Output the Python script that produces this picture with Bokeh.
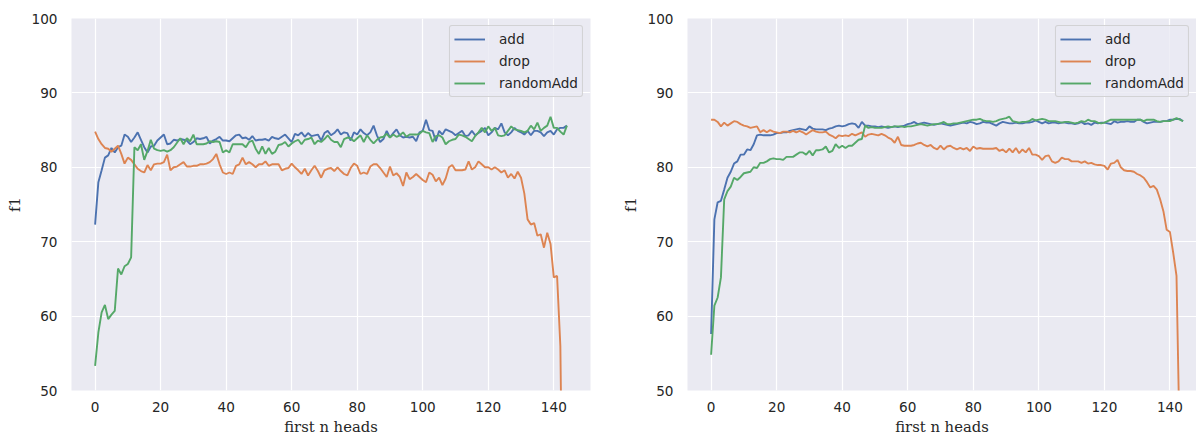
from bokeh.plotting import figure
from bokeh.layouts import row
from bokeh.models import FixedTicker, Range1d
from bokeh.embed import file_html
from bokeh.resources import INLINE

# ---------------- data ----------------
series_names = ["add", "drop", "randomAdd"]
x_ticks = [0, 20, 40, 60, 80, 100, 120, 140]
y_ticks = [50, 60, 70, 80, 90, 100]

left_add = [
    72.3, 78.0, 79.6, 81.3, 81.6, 82.6, 82.0, 82.7, 82.9, 84.4,
    84.1, 83.4, 84.0, 84.7, 83.7, 82.7, 82.0, 82.8, 82.9, 83.6,
    84.0, 84.4, 83.1, 83.2, 83.7, 83.6, 83.8, 83.7, 83.6, 83.1,
    83.4, 83.9, 83.8, 83.9, 84.1, 83.2, 83.6, 83.8, 84.1, 83.6,
    83.6, 83.5, 83.9, 84.3, 84.4, 83.9, 84.0, 83.7, 84.2, 83.6,
    83.7, 83.7, 83.8, 83.6, 84.1, 83.9, 83.8, 84.1, 84.4, 83.9,
    83.4, 84.5, 84.3, 84.7, 84.1, 84.6, 84.2, 84.3, 84.4, 83.6,
    84.6, 84.9, 84.3, 84.6, 85.1, 84.4, 84.7, 84.6, 83.6, 84.7,
    84.4, 85.1, 84.6, 84.3, 84.7, 85.6, 84.3, 83.4, 83.8, 84.9,
    84.0, 84.6, 85.1, 84.3, 84.0, 84.1, 84.0, 84.1, 83.5, 84.7,
    84.9, 86.4, 85.0, 84.9, 83.5, 84.9, 84.4, 85.1, 84.9, 84.7,
    84.3, 84.6, 84.9, 84.2, 84.3, 84.9, 84.3, 84.6, 84.9, 85.3,
    84.3, 84.7, 85.3, 85.1, 85.9, 84.7, 84.3, 84.7, 85.3, 84.9,
    84.7, 84.4, 84.9, 84.3, 84.9, 84.9, 84.7, 84.2, 84.7, 84.9,
    84.4, 85.1, 85.3, 85.3, 85.6,
]
left_drop = [
    84.8, 83.8, 83.1, 82.6, 82.5, 82.1, 82.5, 82.9, 81.8, 80.5,
    81.3, 81.0, 80.4, 79.8, 79.5, 79.3, 80.3, 79.6, 80.4, 80.5,
    80.5, 80.7, 81.7, 79.6, 80.0, 80.1, 80.4, 80.7, 80.1, 80.1,
    80.2, 80.2, 80.4, 80.4, 80.5, 80.7, 81.1, 81.8, 80.4, 79.3,
    79.1, 79.3, 79.1, 80.2, 80.4, 81.3, 80.4, 80.7, 80.4, 80.0,
    80.4, 80.4, 80.8, 80.2, 80.4, 80.4, 80.4, 79.6, 79.8, 79.9,
    80.5, 80.0, 79.6, 79.1, 79.8, 78.9, 79.6, 80.2, 79.5, 78.6,
    79.6, 79.8, 79.9, 79.5, 80.0, 79.5, 79.1, 78.9, 79.9, 80.5,
    80.2, 79.1, 79.3, 79.1, 80.1, 80.4, 80.4, 79.9, 79.3, 78.7,
    80.1, 78.9, 79.2, 78.7, 77.5, 79.3, 78.4, 78.7, 79.1, 78.7,
    78.3, 78.0, 79.3, 79.0, 78.1, 78.6, 77.6, 78.5, 80.0, 80.3,
    79.6, 79.6, 79.6, 79.7, 80.8, 79.7, 80.0, 80.8, 80.4, 80.0,
    80.0, 79.7, 80.0, 79.7, 79.3, 79.6, 78.6, 79.1, 78.5, 79.4,
    78.6, 76.5, 73.0, 72.3, 72.5, 70.8, 71.0, 69.2, 71.2, 69.7,
    65.2, 65.4, 56.0, 20.0, 10.0,
]
left_random = [
    53.3, 57.8, 60.5, 61.5, 59.6, 60.2, 60.7, 66.4, 65.6, 66.7,
    67.0, 67.9, 82.7, 82.3, 83.1, 81.0, 82.2, 83.7, 82.5, 82.3,
    82.2, 82.3, 82.1, 82.3, 82.7, 83.3, 83.9, 83.1, 83.9, 83.5,
    84.4, 83.1, 83.1, 83.1, 83.2, 83.5, 83.4, 83.5, 83.4, 82.0,
    82.3, 82.0, 83.1, 83.1, 83.1, 83.1, 82.7, 83.4, 83.6, 82.5,
    81.8, 82.8, 81.8, 82.6, 81.8, 82.1, 83.0, 83.1, 83.4, 82.8,
    83.2, 83.5, 83.7, 83.1, 83.7, 83.8, 84.0, 83.1, 83.6, 83.4,
    83.8, 84.3, 83.7, 83.4, 83.4, 82.7, 83.8, 84.0, 83.9, 83.5,
    83.9, 84.3, 83.4, 84.3, 83.7, 83.2, 83.7, 84.0, 84.1, 84.5,
    84.0, 84.4, 84.1, 84.3, 84.7, 84.1, 84.4, 84.4, 84.4, 84.5,
    84.9, 84.7, 84.6, 83.4, 84.2, 84.3, 84.0, 83.1, 83.5, 83.7,
    83.8, 84.4, 84.3, 84.1, 83.8, 83.5, 84.2, 84.7, 85.3, 84.7,
    85.5, 84.9, 85.3, 84.3, 84.2, 84.3, 84.9, 85.5, 85.1, 85.0,
    84.9, 84.7, 84.9, 85.6, 85.1, 86.0, 84.9, 85.3, 85.6, 86.8,
    85.3, 85.3, 84.8, 84.4, 85.6,
]

right_add = [
    57.6, 73.0, 75.3, 75.5, 77.0, 78.6, 79.4, 80.5, 80.8, 81.7,
    81.7, 82.4, 82.3, 83.1, 84.3, 84.4, 84.3, 84.3, 84.3, 84.4,
    84.6, 84.6, 84.7, 84.7, 84.9, 85.0, 85.1, 85.2, 85.1, 85.0,
    85.5, 85.2, 85.1, 85.1, 85.1, 85.0, 85.2, 85.3, 85.5, 85.6,
    85.5, 85.6, 85.8, 85.9, 85.8, 85.3, 86.1, 85.6, 85.6, 85.5,
    85.5, 85.4, 85.5, 85.4, 85.3, 85.4, 85.5, 85.4, 85.5, 85.6,
    85.8, 85.9, 86.1, 85.8, 85.9, 86.0, 85.9, 85.8, 85.7, 85.8,
    85.9, 85.8, 85.7, 85.6, 85.7, 85.8, 85.9, 86.0, 85.9, 86.1,
    86.0, 85.8, 85.9, 86.1, 86.0, 86.0, 85.8, 85.6, 85.9, 86.1,
    86.0, 85.9, 85.9, 86.0, 85.9, 85.9, 86.0, 86.0, 86.1, 86.3,
    86.1, 85.9, 86.1, 85.9, 86.0, 86.0, 85.9, 86.0, 86.0, 85.9,
    85.9, 85.8, 85.9, 86.1, 85.8, 85.9, 85.7, 86.0, 85.9, 86.0,
    86.0, 85.9, 85.8, 86.2, 86.0, 86.1, 86.1, 86.2, 86.1, 86.1,
    86.4, 86.4, 86.1, 85.9, 86.0, 86.1, 86.1, 86.1, 86.2, 86.2,
    86.4, 86.4, 86.5, 86.5, 86.2,
]
right_drop = [
    86.4, 86.4, 86.1, 85.5, 86.0, 85.6, 85.9, 86.2, 86.1, 85.8,
    85.6, 85.5, 85.3, 85.4, 85.5, 84.7, 85.0, 84.7, 85.0, 84.8,
    84.7, 84.6, 84.8, 84.8, 84.7, 84.9, 84.7, 84.9, 84.7, 84.4,
    84.7, 85.0, 84.8, 84.7, 84.7, 84.8, 84.4, 84.2, 83.9, 84.3,
    84.2, 84.3, 84.2, 84.5, 84.3, 84.5, 84.7, 84.1, 84.4, 84.5,
    84.4, 84.3, 84.5, 84.3, 84.0, 83.8, 83.3, 84.1, 83.0, 82.9,
    82.9, 82.9, 83.0, 83.2, 83.3, 83.0, 82.8, 83.0, 82.6, 82.4,
    82.9, 82.4, 82.8, 82.9, 82.6, 82.4, 82.6, 82.4, 82.6, 82.2,
    82.8, 82.5, 82.6, 82.5, 82.5, 82.5, 82.5, 82.6, 82.2, 82.4,
    82.0, 82.5, 82.0, 82.6, 81.9, 82.4, 82.0, 82.6, 81.7, 81.7,
    81.5, 81.0, 81.5, 81.6, 80.8, 80.6, 80.8, 81.3, 81.1, 81.1,
    80.8, 80.8, 80.8, 80.6, 80.8, 80.5, 80.6, 80.4, 80.3, 80.3,
    80.2, 79.7, 80.5, 80.6, 81.0, 80.0, 79.6, 79.5, 79.5, 79.4,
    79.1, 78.9, 78.6, 78.0, 77.3, 77.5, 77.0, 75.7, 74.1, 71.6,
    71.3, 68.5, 65.4, 42.0, 30.0,
]
right_random = [
    54.8, 61.4, 62.5, 65.2, 75.7, 76.8, 77.4, 78.6, 78.3, 78.7,
    79.2, 79.3, 79.4, 80.0, 79.9, 80.6, 80.6, 80.8, 81.1, 81.2,
    81.1, 81.1, 81.0, 81.4, 81.4, 81.4, 81.7, 82.0, 82.0, 81.7,
    82.2, 81.6, 82.3, 82.3, 82.4, 82.8, 82.0, 82.2, 83.1, 82.6,
    82.9, 82.6, 82.9, 82.9, 83.3, 83.7, 83.8, 85.6, 85.3, 85.4,
    85.3, 85.3, 85.3, 85.4, 85.5, 85.4, 85.5, 85.5, 85.5, 85.4,
    85.5, 85.5, 85.6, 85.7, 85.8, 85.7, 85.6, 85.7, 85.8, 85.8,
    85.9, 86.1, 85.8, 85.8, 85.9, 85.9, 86.0, 86.1, 86.2, 86.3,
    86.4, 86.4, 86.5, 86.3, 86.2, 86.2, 86.1, 86.2, 86.4, 86.5,
    86.6, 86.8, 86.2, 86.1, 86.0, 86.1, 86.1, 86.2, 86.5, 86.3,
    86.4, 86.5, 86.4, 86.2, 86.2, 86.2, 86.1, 86.0, 86.1, 86.1,
    86.0, 85.9, 86.0, 86.2, 86.1, 86.4, 86.2, 86.2, 86.0, 85.9,
    86.0, 86.2, 86.4, 86.4, 86.4, 86.4, 86.4, 86.4, 86.4, 86.4,
    86.4, 86.4, 86.2, 86.4, 86.4, 86.4, 86.2, 86.1, 86.2, 86.2,
    86.2, 86.4, 86.6, 86.4, 86.2,
]

COLORS = ["#4c72b0", "#dd8452", "#55a868"]
BG = "#eaeaf2"
TXT = "#262626"
FIG_H = 437


def make_fig(width, min_left, min_right, x_end, ys):
    p = figure(width=width, height=FIG_H,
               x_range=Range1d(-7.2, x_end), y_range=Range1d(50, 100),
               output_backend="svg", toolbar_location=None,
               min_border_left=min_left, min_border_right=min_right,
               min_border_top=18, min_border_bottom=46)
    p.background_fill_color = BG
    p.border_fill_color = "white"
    p.outline_line_color = None

    for name, col, y in zip(series_names, COLORS, ys):
        p.line(list(range(len(y))), y, line_color=col, line_width=1.9,
               legend_label=name)

    p.xaxis.ticker = FixedTicker(ticks=x_ticks)
    p.yaxis.ticker = FixedTicker(ticks=y_ticks)
    for ax in (p.xaxis[0], p.yaxis[0]):
        ax.axis_line_color = None
        ax.major_tick_line_color = None
        ax.minor_tick_line_color = None
        ax.major_tick_out = 0
        ax.major_tick_in = 0
        ax.minor_tick_out = 0
        ax.minor_tick_in = 0
        ax.major_label_text_font = "DejaVu Sans"
        ax.major_label_text_font_size = "13.6px"
        ax.major_label_text_color = TXT
        ax.axis_label_text_font = "DejaVu Serif"
        ax.axis_label_text_font_size = "14.8px"
        ax.axis_label_text_font_style = "normal"
        ax.axis_label_text_color = TXT
    p.xaxis.axis_label = "first n heads"
    p.yaxis.axis_label = "f1"
    p.xaxis.major_label_standoff = 11
    p.xaxis.axis_label_standoff = 3
    p.yaxis.major_label_standoff = 14
    p.yaxis.axis_label_standoff = 6

    for g in (p.xgrid[0], p.ygrid[0]):
        g.grid_line_color = "white"
        g.grid_line_width = 1.2
    p.xgrid.ticker = FixedTicker(ticks=x_ticks)
    p.ygrid.ticker = FixedTicker(ticks=y_ticks)

    lg = p.legend[0]
    lg.location = "top_right"
    lg.margin = 7
    lg.padding = 4
    lg.spacing = 4
    lg.glyph_width = 31
    lg.glyph_height = 18
    lg.label_height = 18
    lg.label_standoff = 14
    lg.label_text_font = "DejaVu Sans"
    lg.label_text_font_size = "13.6px"
    lg.label_text_color = TXT
    lg.background_fill_color = BG
    lg.background_fill_alpha = 0.8
    lg.border_line_color = "#cccccc"
    lg.border_line_width = 1
    lg.border_line_alpha = 0.8
    try:
        lg.border_radius = 3
    except Exception:
        pass
    return p


# left: frame 519 px wide for x in [-7.2, 151.2]; right: same scale, frame 509 px
p1 = make_fig(610, 71, 20, 151.2, [left_add, left_drop, left_random])
p2 = make_fig(586, 77, 0, 148.1, [right_add, right_drop, right_random])

layout = row(p1, p2)
open("out.html", "w").write(file_html(layout, INLINE))
